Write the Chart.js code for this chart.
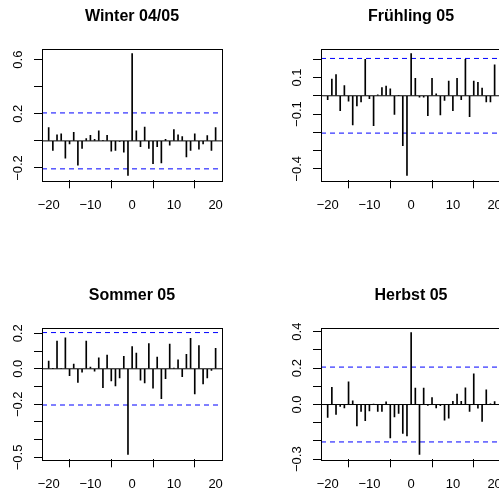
<!DOCTYPE html>
<html>
<head>
<meta charset="utf-8">
<script src="https://cdn.jsdelivr.net/npm/chart.js@4"></script>
<style>
  html, body { margin: 0; padding: 0; background: #fff; overflow: hidden; width: 499px; height: 491px; }
  .panel { position: absolute; width: 279px; height: 279px; }
</style>
</head>
<body>
<div class="panel" style="left:0;top:0"><canvas id="c0"></canvas></div>
<div class="panel" style="left:279px;top:0"><canvas id="c1"></canvas></div>
<div class="panel" style="left:0;top:279px"><canvas id="c2"></canvas></div>
<div class="panel" style="left:279px;top:279px"><canvas id="c3"></canvas></div>
<script>
// lags -20 .. 20
const lags = [-20,-19,-18,-17,-16,-15,-14,-13,-12,-11,-10,-9,-8,-7,-6,-5,-4,-3,-2,-1,0,
              1,2,3,4,5,6,7,8,9,10,11,12,13,14,15,16,17,18,19,20];

const titles = ['Winter 04/05', 'Fr\u00fchling 05', 'Sommer 05', 'Herbst 05'];

const winter = [0.098,-0.071,0.044,0.052,-0.128,-0.022,0.064,-0.179,-0.056,0.017,0.042,0.012,0.074,0.003,0.042,-0.076,-0.071,-0.004,-0.083,-0.255,0.645,
                0.074,-0.042,0.103,-0.056,-0.169,-0.042,-0.162,0.012,-0.032,0.083,0.044,0.032,-0.118,-0.071,0.052,-0.061,-0.022,0.039,-0.071,0.098];
const fruehling = [-0.022,0.091,0.116,-0.082,0.056,-0.029,-0.160,-0.055,-0.033,0.200,-0.016,-0.164,0.005,0.045,0.053,0.038,-0.102,0.002,-0.273,-0.436,0.231,
                0.096,-0.007,-0.007,-0.109,0.095,0.011,-0.105,-0.025,0.080,-0.082,0.095,-0.022,0.200,-0.115,0.080,0.073,0.042,-0.033,-0.033,0.170];
const sommer = [0.043,0.002,0.157,0.003,0.174,-0.039,0.026,-0.077,-0.019,0.157,0.009,-0.013,0.062,-0.107,0.077,-0.069,-0.096,-0.051,0.071,-0.483,0.125,
                0.088,-0.064,-0.079,0.142,-0.109,0.066,-0.169,-0.056,0.139,0.004,0.051,-0.045,0.081,0.172,-0.142,0.131,-0.086,-0.052,-0.009,0.116];
const herbst = [-0.071,0.095,-0.055,-0.011,-0.018,0.124,0.020,-0.117,-0.038,-0.088,-0.035,0.003,-0.038,-0.038,0.015,-0.183,-0.068,-0.049,-0.159,-0.172,0.395,
                0.090,-0.274,0.090,-0.005,0.038,-0.018,-0.007,-0.086,-0.075,0.018,0.058,0.018,0.091,-0.038,0.168,-0.020,-0.093,0.080,0.004,0.016];

const series = [winter, fruehling, sommer, herbst];
const ciValues = [0.2066, 0.2043, 0.2043, 0.2055];

const xTicks = [-20, -10, 0, 10, 20];
const yTicks = [
  [-0.2, 0, 0.2, 0.4, 0.6],
  [-0.4, -0.3, -0.2, -0.1, 0, 0.1, 0.2],
  [-0.5, -0.4, -0.3, -0.2, -0.1, 0, 0.1, 0.2],
  [-0.3, -0.2, -0.1, 0, 0.1, 0.2, 0.3, 0.4]
];
const yLabels = [
  ['\u22120.2', '', '0.2', '', '0.6'],
  ['\u22120.4', '', '', '\u22120.1', '', '0.1', ''],
  ['\u22120.5', '', '', '\u22120.2', '', '0.0', '', '0.2'],
  ['\u22120.3', '', '', '0.0', '', '0.2', '', '0.4']
];

const FONT = "'Liberation Sans', Arial, Helvetica, sans-serif";

// box around the plot region + rotated y labels, like base R
const rPlot = {
  id: 'rPlot',
  afterDraw(chart, args, opts) {
    const {ctx, chartArea: a, scales: {y}} = chart;
    ctx.save();
    ctx.strokeStyle = '#000';
    ctx.lineWidth = 1;
    ctx.strokeRect(Math.round(a.left) + 0.5, Math.round(a.top) + 0.5,
                   Math.round(a.right - a.left), Math.round(a.bottom - a.top));
    ctx.font = '13px ' + FONT;
    ctx.fillStyle = '#000';
    ctx.textAlign = 'center';
    ctx.textBaseline = 'middle';
    opts.ticks.forEach((v, i) => {
      const t = opts.labels[i];
      if (!t) return;
      ctx.save();
      ctx.translate(18.5, y.getPixelForValue(v));
      ctx.rotate(-Math.PI / 2);
      ctx.fillText(t, 0, 0);
      ctx.restore();
    });
    ctx.restore();
  }
};

function makePanel(k) {
  const vals = series[k];
  const ci = ciValues[k];
  const hi = Math.max(...vals, ci), lo = Math.min(...vals, -ci);
  const ext = (hi - lo) * 0.04;
  const xr = (lags[lags.length - 1] - lags[0]) * 0.04;
  const xmin = lags[0] - xr, xmax = lags[lags.length - 1] + xr;
  const hline = v => [{x: xmin, y: v}, {x: xmax, y: v}];

  new Chart(document.getElementById('c' + k), {
    type: 'bar',
    data: {
      datasets: [
        {
          data: lags.map((l, i) => ({x: l, y: vals[i]})),
          backgroundColor: '#000',
          borderWidth: 0,
          barThickness: 1
        },
        { type: 'line', data: hline(0), borderColor: '#000', borderWidth: 1, pointRadius: 0 },
        { type: 'line', data: hline(ci), borderColor: '#0000ff', borderWidth: 1, borderDash: [5, 4], pointRadius: 0 },
        { type: 'line', data: hline(-ci), borderColor: '#0000ff', borderWidth: 1, borderDash: [5, 4], pointRadius: 0 }
      ]
    },
    options: {
      responsive: true,
      maintainAspectRatio: false,
      animation: false,
      // left padding keeps the title centred over the plot box
      layout: { padding: { left: 41.7, right: 56.7, top: 0, bottom: 0 } },
      plugins: {
        legend: { display: false },
        tooltip: { enabled: false },
        title: {
          display: true,
          text: titles[k],
          color: '#000',
          font: { family: FONT, size: 16, weight: 'bold' },
          padding: { top: 7, bottom: 22.5 }
        },
        rPlot: { ticks: yTicks[k], labels: yLabels[k] }
      },
      scales: {
        x: {
          type: 'linear',
          min: xmin,
          max: xmax,
          offset: false,
          afterBuildTicks: s => { s.ticks = xTicks.map(v => ({value: v})); },
          afterFit: s => { s.height = 98.7; },
          grid: { display: true, drawOnChartArea: false, drawTicks: true, tickLength: 8, color: '#000' },
          border: { display: false },
          ticks: {
            color: '#000',
            padding: 9,
            maxRotation: 0,
            font: { family: FONT, size: 13 },
            callback: v => v < 0 ? '\u2212' + Math.abs(v) : String(v)
          }
        },
        y: {
          min: lo - ext,
          max: hi + ext,
          afterBuildTicks: s => { s.ticks = yTicks[k].map(v => ({value: v})); },
          afterFit: s => { s.width = 0.3; },
          grid: { display: true, drawOnChartArea: false, drawTicks: true, tickLength: 8, color: '#000' },
          border: { display: false },
          ticks: { display: false }
        }
      }
    },
    plugins: [rPlot]
  });
}

for (let k = 0; k < 4; k++) makePanel(k);
</script>
</body>
</html>
